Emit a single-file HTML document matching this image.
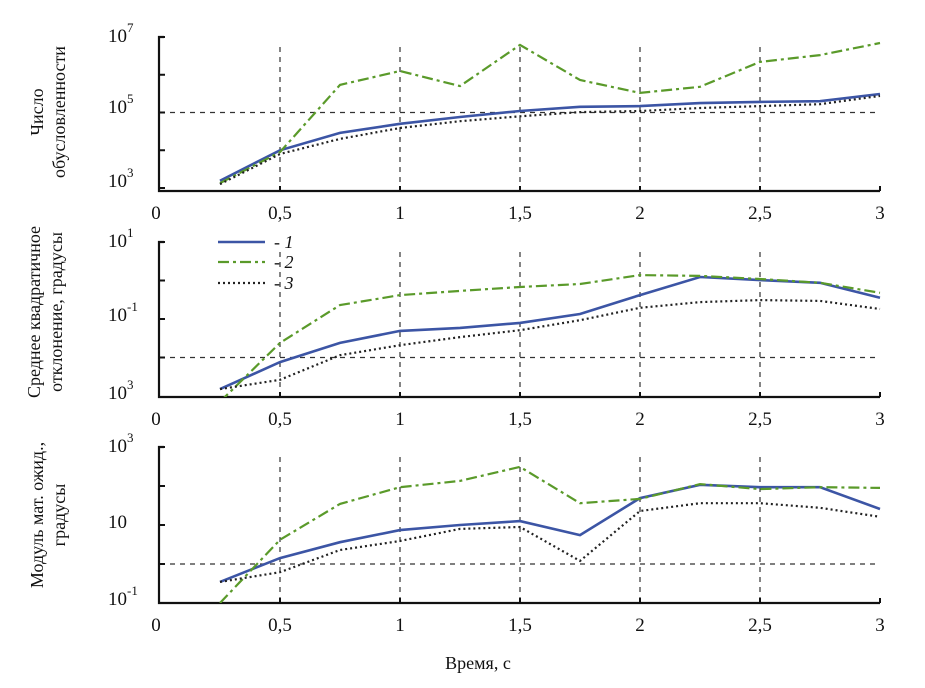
<!DOCTYPE html>
<html><head><meta charset="utf-8"><style>
body{margin:0;background:#fff}
svg text{font-family:"Liberation Serif",serif;fill:#111}
</style></head><body>
<svg id="c" width="925" height="683" viewBox="0 0 925 683"></svg>
<script>
const times=[0.25,0.5,0.75,1,1.25,1.5,1.75,2,2.25,2.5,2.75,3];
const p1Blue=[3.19,4.0,4.46,4.7,4.88,5.04,5.15,5.17,5.25,5.28,5.3,5.49];
const p1Green=[3.13,3.95,5.73,6.1,5.7,6.79,5.86,5.52,5.68,6.34,6.52,6.84];
const p1Black=[3.1,3.9,4.3,4.59,4.77,4.9,5.01,5.04,5.12,5.17,5.22,5.44];
const p2Blue=[-2.82,-2.12,-1.62,-1.31,-1.23,-1.1,-0.87,-0.38,0.09,0.01,-0.06,-0.45];
const p2Green=[-3.15,-1.62,-0.64,-0.38,-0.27,-0.17,-0.09,0.14,0.12,0.04,-0.06,-0.32];
const p2Black=[-2.82,-2.58,-1.94,-1.68,-1.47,-1.29,-1.03,-0.71,-0.56,-0.51,-0.53,-0.74];
const p3Blue=[-0.46,0.15,0.56,0.87,1.0,1.1,0.74,1.69,2.03,1.97,1.97,1.41];
const p3Green=[-1.0,0.62,1.54,1.97,2.13,2.49,1.56,1.67,2.05,1.92,1.97,1.95];
const p3Black=[-0.46,-0.21,0.36,0.59,0.9,0.95,0.08,1.36,1.56,1.56,1.44,1.21];
const xTicks=["0","0,5","1","1,5","2","2,5","3"];

const NS="http://www.w3.org/2000/svg";
const svg=document.getElementById('c');
function el(t,a,p){const e=document.createElementNS(NS,t);for(const k in a)e.setAttribute(k,a[k]);(p||svg).appendChild(e);return e;}
const X=t=>160+t*240;
const panels=[
 {top:37,axis:191,lTop:7,y0:37,per:37.75,grid:5,ticks:[{l:7,b:"10",s:"7"},{l:5,b:"10",s:"5"},{l:3,b:"10",s:"3"}],series:[p1Blue,p1Green,p1Black],tickL:[3,4,5,6,7],tLabY:[42,113,187]},
 {top:242,axis:397,lTop:1,y0:242,per:38.5,grid:-2,ticks:[{l:1,b:"10",s:"1"},{l:-1,b:"10",s:"-1"},{l:-3,b:"10",s:"3"}],series:[p2Blue,p2Green,p2Black],tickL:[1,0,-1,-2],tLabY:[247,321,399]},
 {top:447,axis:603,lTop:3,y0:447,per:39,grid:0,ticks:[{l:3,b:"10",s:"3"},{l:1,b:"10",s:""},{l:-1,b:"10",s:"-1"}],series:[p3Blue,p3Green,p3Black],tickL:[3,2,1,0,-1],tLabY:[452,528,605]}
];
const styles=[{c:"#3c55a5",w:2.6,d:""},{c:"#5a9a2a",w:2.2,d:"11,4,3,4"},{c:"#222",w:2.2,d:"2,3"}];
const names=["series-1-line","series-2-line","series-3-line"];
panels.forEach((p,i)=>{
 const Y=l=>p.y0+(p.lTop-l)*p.per;
 const g=el('g',{});
 
 
 const cp=el('clipPath',{id:'cp'+i},g);
 el('rect',{x:160,y:p.top-5,width:725,height:p.axis-p.top+5},cp);
 [0.5,1,1.5,2,2.5].forEach(t=>{const ln=el('line',{x1:X(t),x2:X(t),y1:p.top+10,y2:p.axis,stroke:"#333","stroke-width":1.2,"stroke-dasharray":"5,5"},g);
  });
 const hg=el('line',{x1:160,x2:880,y1:Y(p.grid),y2:Y(p.grid),stroke:"#333","stroke-width":1.2,"stroke-dasharray":"5,5"},g);
 
 const ax=el('path',{d:`M164 ${p.top} H159 V${p.axis} H880`,fill:"none",stroke:"#111","stroke-width":2.2},g);
 
 p.tickL.forEach(l=>el('line',{x1:159,x2:165,y1:Y(l),y2:Y(l),stroke:"#111","stroke-width":2},g));
 [0.5,1,1.5,2,2.5,3].forEach(t=>el('line',{x1:X(t),x2:X(t),y1:p.axis-5,y2:p.axis,stroke:"#111","stroke-width":2},g));
 xTicks.forEach((s,k)=>{const tx=el('text',{x:X(k*0.5)-(k==0?4:0),y:p.axis+28,"font-size":19,"text-anchor":"middle"},g);tx.textContent=s;
  });
 p.ticks.forEach((t,k)=>{const tx=el('text',{x:108,y:p.tLabY[k],"font-size":19},g);
  
  const a=el('tspan',{},tx);a.textContent=t.b;
  if(t.s){const b=el('tspan',{dy:-10,"font-size":13},tx);b.textContent=t.s;}});
 p.series.forEach((vals,k)=>{const s=styles[k];
  const d=vals.map((v,j)=>(j?'L':'M')+X(times[j]).toFixed(1)+' '+Y(v).toFixed(1)).join(' ');
  const pa=el('path',{d,fill:"none",stroke:s.c,"stroke-width":s.w,"stroke-dasharray":s.d,"clip-path":`url(#cp${i})`},g);
  });
});
const lg=el('g',{});


[242,262,283].forEach((y,k)=>{const s=styles[k];
 el('line',{x1:218,x2:265,y1:y,y2:y,stroke:s.c,"stroke-width":s.w,"stroke-dasharray":s.d},lg);
 const t=el('text',{x:274,y:y+6,"font-size":18,"font-style":"italic"},lg);t.textContent="- "+(k+1);
 });
function ytitle(lines,cx,cy,name){const t=el('text',{transform:`translate(${cx},${cy}) rotate(-90)`,"font-size":18,"text-anchor":"middle"});
 
 lines.forEach((s,k)=>{const ts=el('tspan',{x:0,dy:k?22:0},t);ts.textContent=s;});}
ytitle(["Число","обусловленности"],43,112,'y-axis-title-1');
ytitle(["Среднее квадратичное","отклонение, градусы"],40,312,'y-axis-title-2');
ytitle(["Модуль мат. ожид.,","градусы"],43,515,'y-axis-title-3');
const xt=el('text',{x:478,y:669,"font-size":18,"text-anchor":"middle"});xt.textContent="Время, с";


</script>
</body></html>
